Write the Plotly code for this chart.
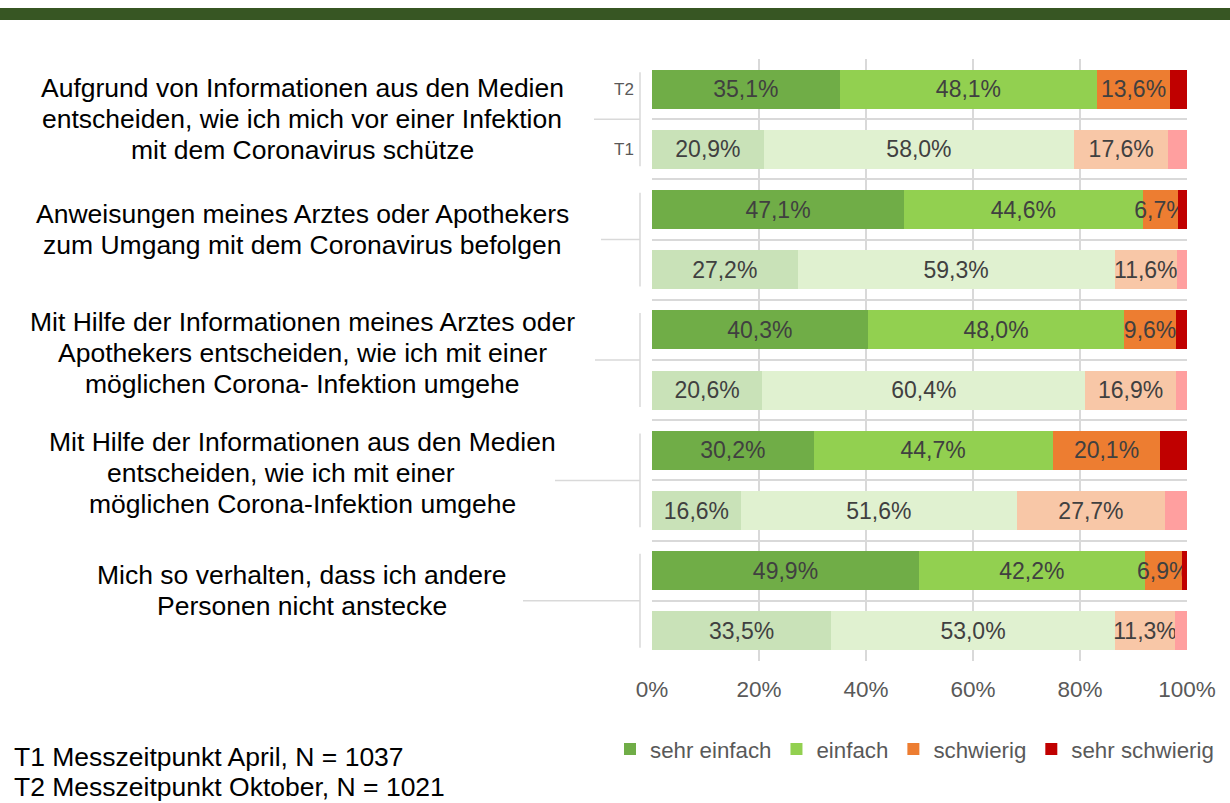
import plotly.graph_objects as go

# ---------------- data ----------------
groups = [
    ["Aufgrund von Informationen aus den Medien",
     "entscheiden, wie ich mich vor einer Infektion",
     "mit dem Coronavirus schütze"],
    ["Anweisungen meines Arztes oder Apothekers",
     "zum Umgang mit dem Coronavirus befolgen"],
    ["Mit Hilfe der Informationen meines Arztes oder",
     "Apothekers entscheiden, wie ich mit einer",
     "möglichen Corona- Infektion umgehe"],
    ["Mit Hilfe der Informationen aus den Medien",
     "entscheiden, wie ich mit einer",
     "möglichen Corona-Infektion umgehe"],
    ["Mich so verhalten, dass ich andere",
     "Personen nicht anstecke"],
]
periods = ["T2", "T1"]
series_names = ["sehr einfach", "einfach", "schwierig", "sehr schwierig"]

# rows in order: G1 T2, G1 T1, G2 T2, G2 T1, ...
sehr_einfach = [35.1, 20.9, 47.1, 27.2, 40.3, 20.6, 30.2, 16.6, 49.9, 33.5]
einfach = [48.1, 58.0, 44.6, 59.3, 48.0, 60.4, 44.7, 51.6, 42.2, 53.0]
schwierig = [13.6, 17.6, 6.7, 11.6, 9.6, 16.9, 20.1, 27.7, 6.9, 11.3]
sehr_schwierig = [3.2, 3.5, 1.6, 1.9, 2.1, 2.1, 5.0, 4.1, 1.0, 2.2]
show_labels = [True, True, True, False]

notes = ["T1 Messzeitpunkt April, N = 1037", "T2 Messzeitpunkt Oktober, N = 1021"]
x_ticks = [0, 20, 40, 60, 80, 100]

# ---------------- style ----------------
dark_colors = ["#70AD47", "#92D050", "#ED7D31", "#C00000"]
light_colors = ["#C9E2B8", "#E0F1D0", "#F8C7A7", "#FF9F9F"]
FONT = "Liberation Sans, Arial, sans-serif"
GRID = "#D9D9D9"

W, H = 1230, 803
L, R, T, B = 652, 43, 59, 142
pw = W - L - R
ph = H - T - B

def px_to_paper_x(px):
    return (px - L) / pw

def px_to_paper_y(py):
    return (H - B - py) / ph

n_rows = len(groups) * len(periods)
row_y = list(range(n_rows))
row_period = [periods[i % len(periods)] for i in range(n_rows)]

fig = go.Figure()
all_series = [sehr_einfach, einfach, schwierig, sehr_schwierig]
for k, (name, vals) in enumerate(zip(series_names, all_series)):
    colors = [dark_colors[k] if p == "T2" else light_colors[k] for p in row_period]
    fig.add_trace(go.Bar(
        name=name,
        orientation="h",
        x=vals,
        y=row_y,
        marker=dict(color=colors, line=dict(width=0)),
        text=[f"{v:.1f}".replace(".", ",") + "%" for v in vals] if show_labels[k] else None,
        textposition="inside" if show_labels[k] else "none",
        insidetextanchor="middle",
        textangle=0,
        constraintext="none",
        textfont=dict(family=FONT, size=23, color="#404040"),
        hoverinfo="skip",
    ))

# group labels (one annotation per line)
label_center_x = px_to_paper_x(302)
label_yshift = [0, 10, 7, 7, 10]
line_xshift = {(3, 1): -21}
line_gap = 31
conn_start_px = [594, 601, 595, 555, 523]
bracket_px = 640
for g, lines in enumerate(groups):
    gy = g * len(periods) + (len(periods) - 1) / 2
    nl = len(lines)
    for j, line in enumerate(lines):
        off = (j - (nl - 1) / 2) * line_gap
        fig.add_annotation(
            x=label_center_x, xref="paper", y=gy, yref="y",
            text=line, showarrow=False, xanchor="center", yanchor="middle",
            yshift=label_yshift[g] - off,
            xshift=line_xshift.get((g, j), 0),
            font=dict(family=FONT, size=26.5, color="#000000"),
        )
    # connector + bracket
    fig.add_shape(type="line", xref="paper", yref="y",
                  x0=px_to_paper_x(conn_start_px[g]), x1=px_to_paper_x(bracket_px),
                  y0=gy, y1=gy, line=dict(color=GRID, width=1.5))
    fig.add_shape(type="line", xref="paper", yref="y",
                  x0=px_to_paper_x(bracket_px), x1=px_to_paper_x(bracket_px),
                  y0=gy - 0.78, y1=gy + 0.78, line=dict(color=GRID, width=1.5))

# T2 / T1 labels only for the first group
for i, p in enumerate(periods):
    fig.add_annotation(
        x=px_to_paper_x(636), xref="paper", y=row_y[i], yref="y",
        text=p, showarrow=False, xanchor="right", yanchor="middle",
        font=dict(family=FONT, size=17, color="#595959"),
    )

# notes
for j, note in enumerate(notes):
    fig.add_annotation(
        x=px_to_paper_x(12), xref="paper", y=px_to_paper_y(757 + 30 * j), yref="paper",
        text=note, showarrow=False, xanchor="left", yanchor="middle",
        font=dict(family=FONT, size=26.5, color="#000000"),
    )

# top banner
fig.add_shape(type="rect", xref="paper", yref="paper",
              x0=px_to_paper_x(-5), x1=px_to_paper_x(W + 5),
              y0=px_to_paper_y(20), y1=px_to_paper_y(8),
              fillcolor="#375623", line=dict(width=0))

fig.update_layout(
    width=W, height=H,
    margin=dict(l=L, r=R, t=T, b=B, pad=0),
    barmode="stack",
    bargap=0.35,
    plot_bgcolor="white",
    paper_bgcolor="white",
    font=dict(family=FONT),
    showlegend=True,
    legend=dict(
        orientation="h",
        x=px_to_paper_x(610), xanchor="left",
        y=px_to_paper_y(749), yanchor="middle",
        font=dict(family=FONT, size=22.3, color="#595959"),
        itemwidth=30,
        traceorder="normal",
        bgcolor="rgba(0,0,0,0)",
    ),
    xaxis=dict(
        range=[0, 100],
        tickvals=x_ticks,
        ticktext=[f"{v}%" for v in x_ticks],
        showgrid=True, gridcolor=GRID, gridwidth=1.5,
        zeroline=False, showline=False,
        tickfont=dict(family=FONT, size=22.5, color="#595959"),
        ticks="",
        ticklabelstandoff=12,
        fixedrange=True,
    ),
    yaxis=dict(
        range=[n_rows - 0.5, -0.5],
        tickvals=[i - 0.5 for i in range(n_rows + 1)],
        showticklabels=False,
        showgrid=True, gridcolor=GRID, gridwidth=1.5,
        zeroline=False, showline=False,
        ticks="",
        fixedrange=True,
    ),
)

fig.write_html("out.html", config={"displayModeBar": False},
               post_script="document.body.style.margin='0px';")
